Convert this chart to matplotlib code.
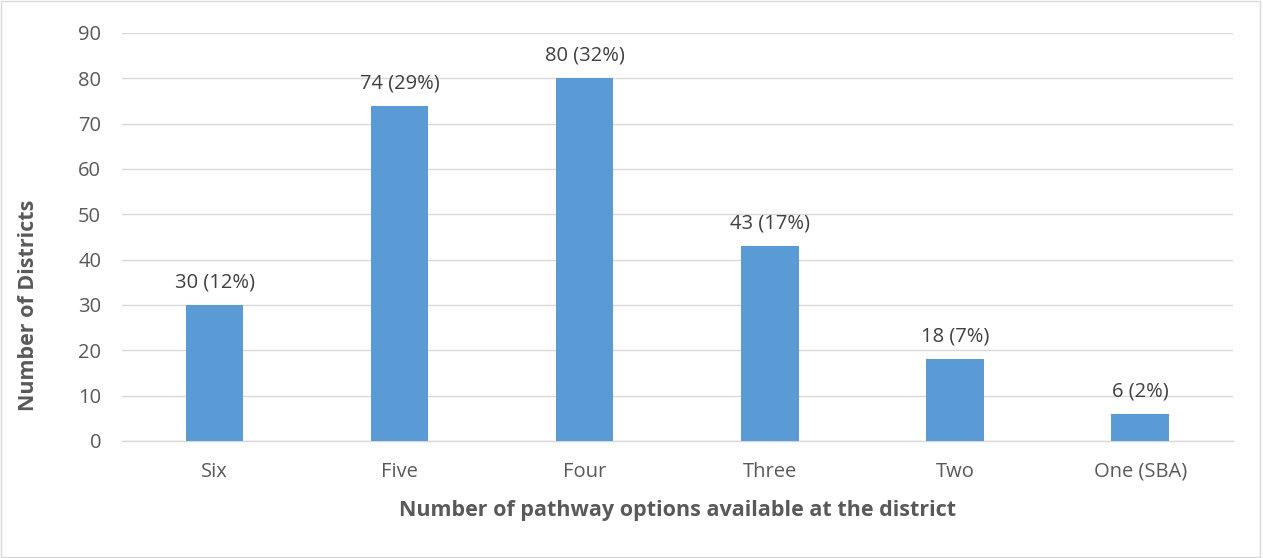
import matplotlib
matplotlib.use("Agg")
import matplotlib.pyplot as plt
from matplotlib.patches import Rectangle

categories = ["Six", "Five", "Four", "Three", "Two", "One (SBA)"]
values = [30, 74, 80, 43, 18, 6]
labels = ["30 (12%)", "74 (29%)", "80 (32%)", "43 (17%)", "18 (7%)", "6 (2%)"]
yticks = [0, 10, 20, 30, 40, 50, 60, 70, 80, 90]

plt.rcParams['font.family'] = ['Open Sans', 'DejaVu Sans']

fig = plt.figure(figsize=(12.63, 5.58), dpi=100)
ax = fig.add_axes([0.0966, 0.2097, 0.8794, 0.7312])

x = list(range(len(categories)))
bars = ax.bar(x, values, width=0.31, color="#5B9BD5", zorder=3)
for xi, v, lab in zip(x, values, labels):
    ax.annotate(lab, (xi, v), xytext=(0, 9), textcoords="offset points",
                ha="center", va="bottom", fontsize=14.5, color="#404040")

ax.set_xlim(-0.5, len(categories) - 0.5)
ax.set_ylim(0, 90)
ax.set_yticks(yticks)
ax.set_xticks(x)
ax.set_xticklabels(categories)
ax.tick_params(axis="both", length=0, labelsize=14.5, colors="#595959")
ax.tick_params(axis="x", pad=15)
ax.tick_params(axis="y", pad=15)
ax.grid(axis="y", color="#D9D9D9", linewidth=1, zorder=0)
for s in ["top", "right", "left"]:
    ax.spines[s].set_visible(False)
ax.spines["bottom"].set_color("#D9D9D9")
ax.spines["bottom"].set_linewidth(1)

ax.set_xlabel("Number of pathway options available at the district", fontsize=15.5,
              fontweight="bold", color="#595959")
ax.xaxis.label.set_va("center")
ax.xaxis.set_label_coords(0.5, (441 - 511) / 408)
ax.set_ylabel("Number of Districts", fontsize=15.5, fontweight="bold",
              color="#595959")
ax.yaxis.label.set_va("center")
ax.yaxis.set_label_coords((28 - 122) / 1111, (441 - 305) / 408)

fig.patches.append(Rectangle((0.001, 0.001), 0.997, 0.997, transform=fig.transFigure,
                             fill=False, edgecolor="#D9D9D9", linewidth=1))

fig.savefig("out.png", dpi=100, facecolor="white")
